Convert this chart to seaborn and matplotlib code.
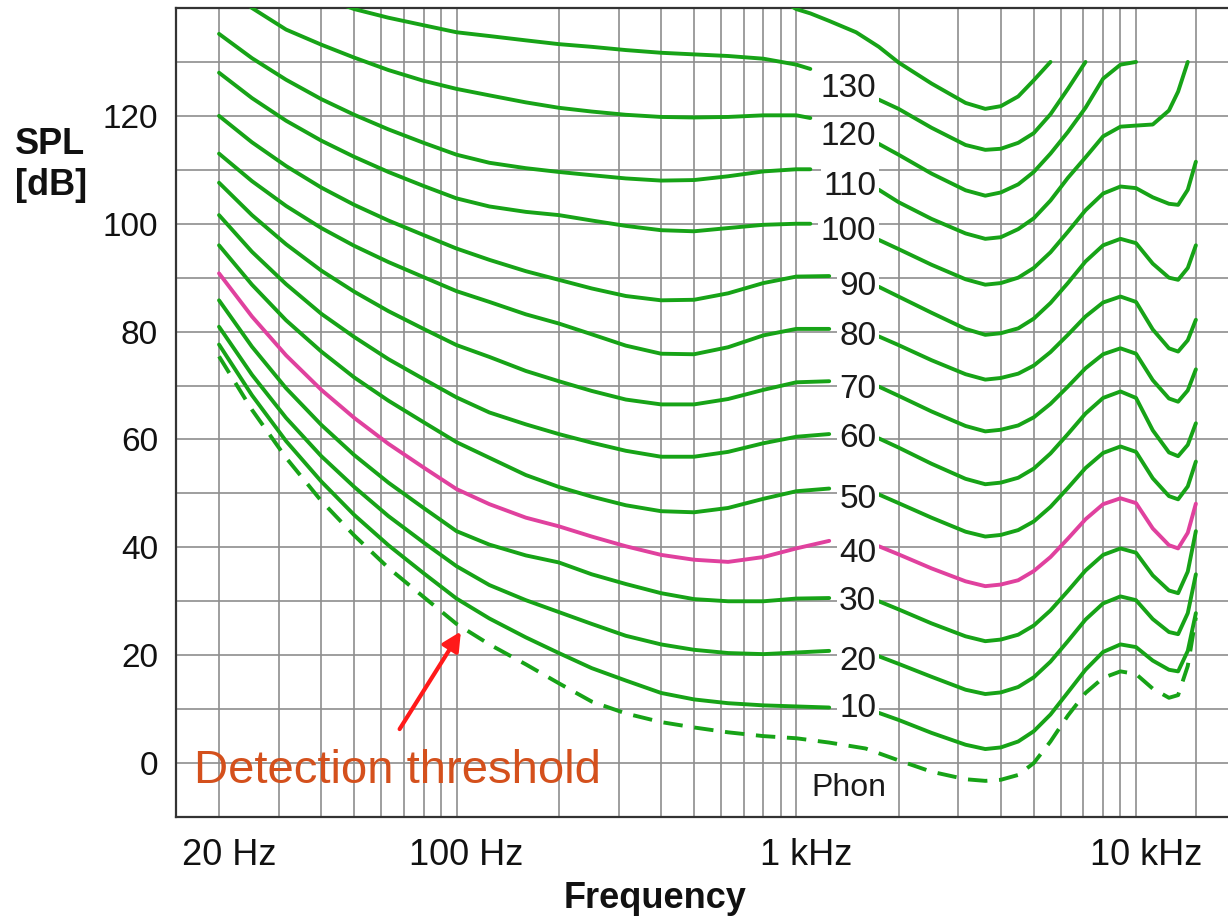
import numpy as np
import pandas as pd
import matplotlib
matplotlib.use("Agg")
import matplotlib.pyplot as plt
import matplotlib.transforms as mtransforms
from matplotlib.ticker import FixedLocator, NullFormatter
import seaborn as sns

sns.set_style("white")
plt.rcParams["font.family"] = ["Liberation Sans", "DejaVu Sans"]

# ---------------- data ----------------
freq_left = [20, 25, 31.5, 40, 50, 63, 80, 100, 125, 160, 200, 250, 315, 400, 500, 630, 800, 1000]
end_wide = 1100      # last point before a 3-digit label
end_narrow = 1250    # last point before a 2-digit label
freq_right = [1750, 2000, 2500, 3150, 3600, 4000, 4500, 5000, 5600, 6300, 7100,
              8000, 9000, 10000, 11200, 12500, 13300, 14200, 15000]
nan = np.nan

phon_levels = [130, 120, 110, 100, 90, 80, 70, 60, 50, 40, 30, 20, 10]

left_130 = [152, 148, 145, 142, 139.8, 138.2, 136.8, 135.5, 134.8, 134, 133.3, 132.8, 132.2, 131.7, 131.4, 131.1, 130.6, 129.5, 128.7]
left_120 = [145, 140, 136, 133.2, 130.8, 128.5, 126.5, 125, 123.8, 122.5, 121.5, 120.8, 120.2, 119.8, 119.7, 119.8, 120.1, 120.1, 119.6]
left_110 = [135.2, 130.7, 126.7, 123.1, 120.2, 117.5, 115, 112.8, 111.3, 110.3, 109.6, 109, 108.4, 108, 108.1, 108.8, 109.7, 110.1, 110.1]
left_100 = [128, 123.3, 119.1, 115.4, 112.4, 109.6, 107, 104.7, 103.2, 102.2, 101.6, 100.6, 99.6, 98.8, 98.6, 99.2, 99.8, 100, 100]
left_90 = [120, 115.1, 110.7, 106.7, 103.5, 100.6, 97.9, 95.4, 93.3, 91.2, 89.6, 88, 86.6, 85.8, 85.9, 87.1, 89, 90.2, 90.3]
left_80 = [113, 107.9, 103.3, 99.2, 95.9, 92.9, 90.1, 87.5, 85.5, 83.2, 81.5, 79.5, 77.4, 75.9, 75.8, 77.1, 79.3, 80.5, 80.5]
left_70 = [107.6, 101.6, 96.2, 91.3, 87.4, 83.8, 80.5, 77.5, 75.3, 72.7, 70.8, 69, 67.4, 66.5, 66.5, 67.5, 69.2, 70.6, 70.8]
left_60 = [101.6, 94.8, 88.8, 83.3, 79, 74.9, 71.2, 67.8, 65, 62.8, 61, 59.4, 57.9, 56.8, 56.8, 57.7, 59.3, 60.5, 61]
left_50 = [96, 88.7, 82.1, 76.3, 71.5, 67.2, 63.2, 59.5, 56.6, 53.4, 51.2, 49.4, 47.8, 46.7, 46.5, 47.3, 49, 50.4, 50.9]
left_40 = [90.8, 82.8, 75.6, 69.2, 64, 59.2, 54.8, 50.8, 48, 45.5, 43.9, 42, 40.2, 38.6, 37.7, 37.3, 38.2, 39.8, 41.2]
left_30 = [85.8, 77.2, 69.5, 62.7, 57.1, 52, 47.3, 43, 40.5, 38.5, 37.2, 35, 33.2, 31.5, 30.4, 30, 30, 30.5, 30.6]
left_20 = [80.9, 72, 64, 56.9, 51.2, 45.8, 40.9, 36.5, 33, 30.2, 28, 25.8, 23.6, 22, 21, 20.4, 20.2, 20.5, 20.8]
left_10 = [77.6, 68.2, 59.7, 52.2, 46, 40.4, 35.2, 30.5, 26.8, 23.3, 20.4, 17.6, 15.3, 13, 11.8, 11.1, 10.7, 10.5, 10.3]

right_130 = [123, 121.3, 117.8, 114.6, 113.7, 113.9, 115, 116.8, 120.3, 125, 130, nan, nan, nan, nan, nan, nan, nan, nan]
right_120 = [114.8, 112.8, 109.3, 106.2, 105.2, 105.8, 107.3, 109.6, 113, 117, 121.5, 126.9, 129.5, 130, nan, nan, nan, nan, nan]
right_110 = [106.3, 104, 100.9, 98.2, 97.2, 97.5, 99, 101, 104.3, 108.5, 112.3, 116.2, 118, 118.2, 118.4, 121, 124.5, 130, nan]
right_100 = [97, 95.3, 92.4, 89.7, 88.7, 89, 90, 91.8, 94.7, 98.5, 102.5, 105.6, 106.9, 106.6, 104.9, 103.7, 103.5, 106.3, 111.5]
right_90 = [88.3, 86.5, 83.5, 80.5, 79.4, 79.7, 80.6, 82.4, 85.3, 89, 93, 96, 97.2, 96.4, 92.6, 90, 89.6, 91.8, 96]
right_80 = [79.1, 77.5, 74.7, 72.1, 71.1, 71.4, 72.2, 73.7, 76.2, 79.4, 82.8, 85.4, 86.5, 85.5, 80.4, 76.9, 76.3, 78.4, 82.2]
right_70 = [69.8, 68.1, 65.2, 62.5, 61.5, 61.8, 62.6, 64.1, 66.6, 69.8, 73.2, 75.8, 76.9, 75.9, 71, 67.6, 67, 69.1, 73]
right_60 = [60.2, 58.5, 55.5, 52.7, 51.7, 52, 52.9, 54.6, 57.4, 61, 64.8, 67.7, 68.9, 67.7, 61.7, 57.6, 56.9, 59, 63]
right_50 = [49.8, 48.2, 45.5, 42.9, 42, 42.3, 43.2, 44.8, 47.5, 51, 54.7, 57.5, 58.7, 57.7, 52.8, 49.5, 48.9, 51.3, 55.9]
right_40 = [40.2, 38.7, 36.1, 33.7, 32.8, 33.1, 33.9, 35.6, 38.2, 41.6, 45.2, 48, 49.1, 48.2, 43.5, 40.4, 39.8, 42.7, 48.1]
right_30 = [30, 28.5, 25.9, 23.5, 22.6, 22.9, 23.8, 25.5, 28.3, 31.9, 35.7, 38.6, 39.8, 39, 34.8, 32, 31.5, 35.5, 43]
right_20 = [19.8, 18.4, 16, 13.6, 12.8, 13.1, 14.1, 15.9, 18.8, 22.6, 26.6, 29.6, 30.9, 30.2, 26.7, 24.3, 23.9, 27.8, 35]
right_10 = [9.3, 8, 5.6, 3.4, 2.6, 2.9, 4, 5.9, 9, 13.1, 17.3, 20.6, 22, 21.5, 19, 17.3, 17, 20.8, 27.8]

# top contour that enters from the upper edge near 1 kHz
freq_top = [900, 1000, 1100, 1250, 1500, 1750, 2000, 2500, 3150, 3600, 4000, 4500, 5000, 5600]
spl_top = [141.5, 139.8, 139, 137.6, 135.5, 132.8, 129.9, 126, 122.4, 121.3, 121.8, 123.6, 126.6, 130]

# detection threshold (dashed)
thr_freq = [20, 25, 31.5, 40, 50, 63, 80, 100, 125, 160, 200, 250, 315, 400, 500, 630, 800, 1000,
            1250, 1600, 2000, 2500, 3150, 3600, 4000, 4500, 5000, 5600, 6300, 7100, 8000, 9000,
            10000, 11200, 12500, 13300, 14200, 15000]
thr_spl = [75.4, 65.5, 56.6, 48.6, 42.2, 36.2, 30.8, 25.8, 22, 18.3, 14.8, 11.4, 9.2, 7.6, 6.6, 5.7, 5, 4.6,
           3.8, 2.7, 0.5, -1.6, -3, -3.3, -3.1, -2.2, 0, 4, 8.8, 13, 15.8, 17,
           16.5, 13.8, 12.1, 12.6, 18, 27]

label_spl = [125.1, 116.1, 106.9, 98.5, 88.3, 79.1, 69.2, 60.2, 48.9, 38.9, 30, 18.9, 10.2]

tick_hz = [20, 100, 1000, 10000]
tick_text = ["20 Hz", "100 Hz", "1 kHz", "10 kHz"]
ytick_vals = [0, 20, 40, 60, 80, 100, 120]

# ---------------- build long table ----------------
left_sets = dict(zip(phon_levels, [left_130, left_120, left_110, left_100, left_90, left_80, left_70,
                                   left_60, left_50, left_40, left_30, left_20, left_10]))
right_sets = dict(zip(phon_levels, [right_130, right_120, right_110, right_100, right_90, right_80, right_70,
                                    right_60, right_50, right_40, right_30, right_20, right_10]))
rows = []
for p in phon_levels:
    fl = freq_left + [end_wide if p >= 100 else end_narrow]
    for f, s in zip(fl, left_sets[p]):
        rows.append((f, s, f"{p}L", p))
    for f, s in zip(freq_right, right_sets[p]):
        rows.append((f, s, f"{p}R", p))
for f, s in zip(freq_top, spl_top):
    rows.append((f, s, "topR", 140))
df = pd.DataFrame(rows, columns=["freq", "spl", "segment", "phon"]).dropna()
df_thr = pd.DataFrame({"freq": thr_freq, "spl": thr_spl})

# ---------------- figure ----------------
W, H = 1228, 922
fig = plt.figure(figsize=(W / 100, H / 100), dpi=100)
ax = fig.add_axes([176 / W, 1 - 817 / H, 1 - 176 / W, 809 / H])
ax.set_xscale("log")
ax.set_xlim(14.94, 18650)
ax.set_ylim(-10, 140)

green = "#17a317"
magenta = "#e0419e"
lw = 2.8

sns.lineplot(data=df[df["phon"] != 40], x="freq", y="spl", units="segment", estimator=None,
             sort=False, color=green, lw=lw, ax=ax, legend=False, zorder=3)
sns.lineplot(data=df[df["phon"] == 40], x="freq", y="spl", units="segment", estimator=None,
             sort=False, color=magenta, lw=lw, ax=ax, legend=False, zorder=3)
sns.lineplot(data=df_thr, x="freq", y="spl", estimator=None, sort=False, color=green, lw=lw,
             ax=ax, legend=False, zorder=3, dashes=False, linestyle=(0, (5, 3)))
for line in ax.get_lines():
    line.set_solid_joinstyle("round")
    line.set_dash_joinstyle("round")

# grid
grid_hz = [m * 10 ** e for e in (1, 2, 3) for m in range(2, 10)] + [10000, 15000]
ax.xaxis.set_major_locator(FixedLocator(tick_hz))
ax.xaxis.set_minor_locator(FixedLocator(grid_hz))
ax.set_xticklabels(tick_text)
ax.xaxis.set_minor_formatter(NullFormatter())
ax.yaxis.set_major_locator(FixedLocator(ytick_vals))
ax.yaxis.set_minor_locator(FixedLocator(list(range(-10, 141, 10))))
ax.yaxis.set_minor_formatter(NullFormatter())
ax.grid(True, which="both", color="#8e8e8e", lw=1.2, zorder=0)
ax.set_axisbelow(True)
ax.tick_params(which="both", length=0)
ax.tick_params(axis="x", labelsize=26, pad=15, colors="#111111")
ax.tick_params(axis="y", labelsize=24, pad=13, colors="#111111")
offset = mtransforms.ScaledTranslation(0.10, 0, fig.dpi_scale_trans)
for lab in ax.get_xticklabels():
    lab.set_transform(lab.get_transform() + offset)

for side in ["left", "top", "bottom"]:
    ax.spines[side].set_color("#333333")
    ax.spines[side].set_linewidth(1.6)
ax.spines["right"].set_visible(False)
ax.set_xlabel("")
ax.set_ylabel("")

# phon labels in the gap
for p, y in zip(phon_levels, label_spl):
    ax.text(1720, y, str(p), ha="right", va="center", fontsize=24, color="#1a1a1a", zorder=5,
            bbox=dict(facecolor="white", edgecolor="none", pad=2))
ax.text(1430, -4.6, "Phon", ha="center", va="center", fontsize=23, color="#1a1a1a", zorder=5,
        bbox=dict(facecolor="white", edgecolor="none", pad=1))

# annotation
ax.text(16.9, -1.5, "Detection threshold", ha="left", va="center", fontsize=34,
        color="#d4501c", zorder=5)
ax.annotate("", xy=(103, 24.4), xytext=(68, 6.3),
            arrowprops=dict(arrowstyle="-|>", color="#ff1a1a", lw=3, mutation_scale=28,
                            shrinkA=0, shrinkB=0), zorder=6)

# axis titles
fig.text(15 / W, 1 - 165 / H, "SPL\n[dB]", ha="left", va="center", fontsize=26,
         fontweight="bold", color="#111111", linespacing=1.2)
fig.text(655 / W, 1 - 898 / H, "Frequency", ha="center", va="center", fontsize=26,
         fontweight="bold", color="#111111")

fig.savefig("out.png", dpi=100)
